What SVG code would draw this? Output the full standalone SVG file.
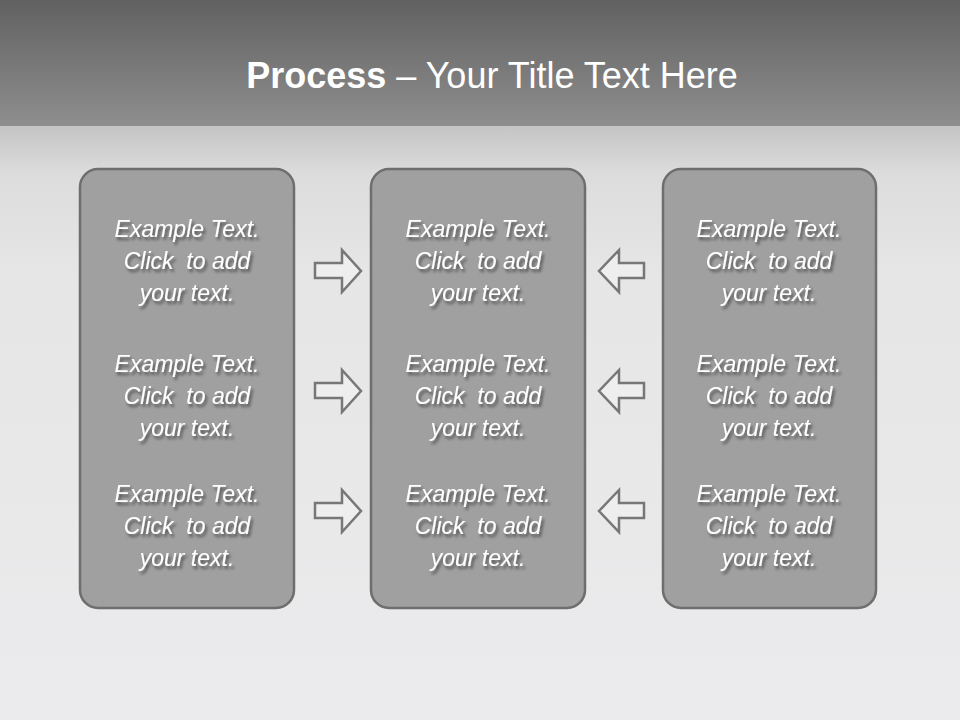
<svg xmlns="http://www.w3.org/2000/svg" width="960" height="720" viewBox="0 0 960 720">
<defs>
<linearGradient id="band" x1="0" y1="0" x2="0" y2="1">
<stop offset="0" stop-color="#616161"/>
<stop offset="1" stop-color="#8e8e8e"/>
</linearGradient>
<linearGradient id="bg" x1="0" y1="0" x2="0" y2="1">
<stop offset="0" stop-color="#c4c4c4"/>
<stop offset="0.08" stop-color="#dcdcdc"/>
<stop offset="0.25" stop-color="#e6e6e6"/>
<stop offset="1" stop-color="#ebebed"/>
</linearGradient>
<filter id="sh" x="-10%" y="-20%" width="130%" height="150%">
<feGaussianBlur in="SourceAlpha" stdDeviation="1.5"/>
<feOffset dx="2" dy="3" result="b"/>
<feFlood flood-color="#000" flood-opacity="0.5"/>
<feComposite in2="b" operator="in"/>
<feMerge><feMergeNode/><feMergeNode in="SourceGraphic"/></feMerge>
</filter>
</defs>
<style>
.box{fill:#a0a0a0;stroke:#6e6e6e;stroke-width:2.5}
.t{font-family:"Liberation Sans",Arial,sans-serif;font-style:italic;font-size:23px;fill:#fff;text-anchor:middle}
.arr{fill:#eeeeee;stroke:#777;stroke-width:2.5;stroke-linejoin:miter}
.title{font-family:"Liberation Sans",Arial,sans-serif;font-size:36px;fill:#fff;text-anchor:middle}
</style>
<rect x="0" y="125" width="960" height="595" fill="url(#bg)"/>
<rect x="0" y="0" width="960" height="126" fill="url(#band)"/>
<text class="title" x="492" y="88"><tspan font-weight="bold">Process</tspan> – Your Title Text Here</text>

<g id="box-left">
<rect class="box" x="80" y="169" width="214" height="439" rx="18"/>
<g class="t" filter="url(#sh)">
<text x="187" y="237">Example Text.</text><text x="187" y="269">Click&#160; to add</text><text x="187" y="301">your text.</text>
<text x="187" y="372">Example Text.</text><text x="187" y="404">Click&#160; to add</text><text x="187" y="436">your text.</text>
<text x="187" y="502">Example Text.</text><text x="187" y="534">Click&#160; to add</text><text x="187" y="566">your text.</text>
</g>
</g>
<g id="box-middle">
<rect class="box" x="371" y="169" width="214" height="439" rx="18"/>
<g class="t" filter="url(#sh)">
<text x="478" y="237">Example Text.</text><text x="478" y="269">Click&#160; to add</text><text x="478" y="301">your text.</text>
<text x="478" y="372">Example Text.</text><text x="478" y="404">Click&#160; to add</text><text x="478" y="436">your text.</text>
<text x="478" y="502">Example Text.</text><text x="478" y="534">Click&#160; to add</text><text x="478" y="566">your text.</text>
</g>
</g>
<g id="box-right">
<rect class="box" x="663" y="169" width="213" height="439" rx="18"/>
<g class="t" filter="url(#sh)">
<text x="769" y="237">Example Text.</text><text x="769" y="269">Click&#160; to add</text><text x="769" y="301">your text.</text>
<text x="769" y="372">Example Text.</text><text x="769" y="404">Click&#160; to add</text><text x="769" y="436">your text.</text>
<text x="769" y="502">Example Text.</text><text x="769" y="534">Click&#160; to add</text><text x="769" y="566">your text.</text>
</g>
</g>

<g id="connectors">
<path class="arr" d="M315,263 H342 V250 L361,271 L342,292 V278 H315 Z"/>
<path class="arr" transform="translate(0,120)" d="M315,263 H342 V250 L361,271 L342,292 V278 H315 Z"/>
<path class="arr" transform="translate(0,240)" d="M315,263 H342 V250 L361,271 L342,292 V278 H315 Z"/>
<path class="arr" d="M644,263 H619 V250 L599,271 L619,292 V278 H644 Z"/>
<path class="arr" transform="translate(0,120)" d="M644,263 H619 V250 L599,271 L619,292 V278 H644 Z"/>
<path class="arr" transform="translate(0,240)" d="M644,263 H619 V250 L599,271 L619,292 V278 H644 Z"/>
</g>
</svg>
